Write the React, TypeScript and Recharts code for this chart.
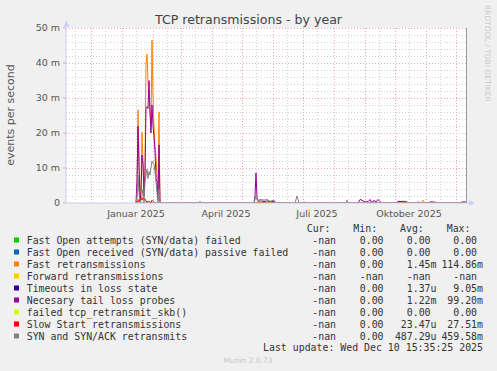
import React from 'react';
import { LineChart, Line, XAxis, YAxis, CartesianGrid, ReferenceLine } from 'recharts';

// x = days since 6 Nov 2024 (400-day window ending 10 Dec 2025), y = milli-events per second
const MONTH_STARTS = [25, 56, 87, 115, 146, 176, 207, 237, 268, 299, 329, 360, 390];
const MID_MONTHS = [9, 39, 70, 101, 129, 160, 190, 221, 251, 282, 313, 343, 374];
const X_LABEL_DAYS = [70, 160, 251, 343];
const X_LABELS = ['Januar 2025', 'April 2025', 'Juli 2025', 'Oktober 2025'];
const Y_MAJOR = [0, 10, 20, 30, 40, 50];
const Y_MINOR = [2, 4, 6, 8, 12, 14, 16, 18, 22, 24, 26, 28, 32, 34, 36, 38, 42, 44, 46, 48];

const zeroDays = [70, 400];
const zeroVals = [0, 0];

const fastDays = [70, 71, 72, 73, 74, 75, 76, 77, 78, 79, 80, 81, 82, 83, 84, 85, 86, 87, 88, 89, 90, 91, 92, 93, 94, 273, 274, 275, 355, 357, 359, 400];
const fastVals = [0, 0, 26.6, 14, 0.5, 5, 20.2, 12, 3, 10, 40, 42.5, 35, 30, 26, 22, 46.5, 30, 22, 16, 13, 8, 2, 26, 0, 0, 0.3, 0, 0, 0.8, 0, 0];

const tailDays = [70, 71, 72, 73, 74, 75, 76, 77, 78, 79, 80, 81, 82, 83, 84, 85, 86, 87, 88, 89, 90, 91, 92, 93, 94,
  110, 111, 112, 188, 189, 190, 191, 192, 195, 198, 201, 204, 208, 210, 236, 238, 240, 263, 264, 265,
  292, 294, 296, 298, 300, 302, 304, 305, 307, 308, 310, 312, 314, 316, 330, 332, 335, 338, 340, 343,
  362, 364, 368, 372, 394, 396, 399, 400];
const tailVals = [0, 6.6, 22, 10, 0.5, 3, 13.7, 11, 2, 8, 27, 27.5, 27, 35, 26, 20, 28, 22, 19, 15, 7, 6, 1, 16.6, 0,
  0, 0.3, 0, 0, 2, 8.6, 1.5, 0.5, 0.6, 0.4, 0.6, 0.3, 0.5, 0, 0, 0.3, 0, 0, 0.3, 0,
  0, 1, 0.8, 0.4, 0.3, 0.4, 1, 0.3, 0.3, 0.8, 0.3, 1, 0.4, 0, 0, 0.5, 0.4, 0.5, 0.4, 0,
  0, 0.3, 0.3, 0, 0, 0.3, 0.3, 0.3];

const slowDays = [70, 71, 72, 73, 74, 75, 76, 77, 78, 79, 80, 81, 82, 83, 84, 85, 86, 87, 88, 89, 94, 400];
const slowVals = [0, 0.5, 0.3, 1, 0.2, 1.2, 0.8, 1.5, 1, 1.2, 0.5, 0.3, 0.5, 0.2, 0.4, 0, 0.8, 0.5, 0.3, 0, 0, 0];

const synDays = [70, 71, 72, 73, 74, 75, 76, 77, 78, 79, 80, 81, 82, 83, 84, 85, 86, 87, 88, 89, 90, 91, 92, 93, 94,
  133, 134, 135, 188, 189, 190, 191, 192, 195, 198, 201, 204, 208, 210, 229, 231, 233, 280, 281, 282, 350, 352, 354, 400];
const synVals = [0, 2, 8, 3, 0, 1, 2, 4, 0, 6, 8, 9.7, 7, 9, 8, 10, 12, 11.4, 11, 9, 6, 3, 0, 4, 0,
  0, 0.5, 0, 0, 1, 2, 1, 0.8, 1, 0.8, 1, 0.5, 0.8, 0, 0, 2, 0, 0, 0.8, 0, 0, 0.4, 0, 0];

const legendNames = [
  'Fast Open attempts (SYN/data) failed',
  'Fast Open received (SYN/data) passive failed',
  'Fast retransmissions',
  'Forward retransmissions',
  'Timeouts in loss state',
  'Necesary tail loss probes',
  'failed tcp_retransmit_skb()',
  'Slow Start retransmissions',
  'SYN and SYN/ACK retransmits',
];
const legendColors = ['#00CC00', '#0066B3', '#FF8000', '#FFCC00', '#330099', '#990099', '#CCFF00', '#FF0000', '#808080'];
const curVals = ['-nan ', '-nan ', '-nan ', '-nan ', '-nan ', '-nan ', '-nan ', '-nan ', '-nan '];
const minVals = ['0.00 ', '0.00 ', '0.00 ', '-nan ', '0.00 ', '0.00 ', '0.00 ', '0.00 ', '0.00 '];
const avgVals = ['0.00 ', '0.00 ', '1.45m', '-nan ', '1.37u', '1.22m', '0.00 ', '23.47u', '487.29u'];
const maxVals = ['0.00 ', '0.00 ', '114.86m', '-nan ', '9.05m', '99.20m', '0.00 ', '27.51m', '459.58m'];

const toPoints = (days: number[], vals: number[]) => days.map((d, i) => ({ d, v: vals[i] }));

const SANS = 'DejaVu Sans, sans-serif';
const MONO = 'DejaVu Sans Mono, monospace';

export default function App() {
  const series = [
    { name: legendNames[0], color: legendColors[0], data: toPoints(zeroDays, zeroVals) },
    { name: legendNames[1], color: legendColors[1], data: toPoints(zeroDays, zeroVals) },
    { name: legendNames[2], color: legendColors[2], data: toPoints(fastDays, fastVals) },
    { name: legendNames[4], color: legendColors[4], data: toPoints(zeroDays, zeroVals) },
    { name: legendNames[5], color: legendColors[5], data: toPoints(tailDays, tailVals) },
    { name: legendNames[6], color: legendColors[6], data: toPoints(zeroDays, zeroVals) },
    { name: legendNames[7], color: legendColors[7], data: toPoints(slowDays, slowVals) },
    { name: legendNames[8], color: legendColors[8], data: toPoints(synDays, synVals) },
  ];
  const colRight = [342, 389.5, 436.5, 483];
  const cols = [curVals, minVals, avgVals, maxVals];
  const headers = ['Cur:', 'Min:', 'Avg:', 'Max:'];
  const headerLeft = [306.7, 353.3, 400, 446.7];
  const txt = '#333333';
  const minorGrid = '#D2D2D2';
  const majorGrid = '#EBA8A8';
  return (
    <div style={{ position: 'absolute', left: 0, top: 0, width: 497, height: 371, background: '#F0F0F0', overflow: 'hidden' }}>
      <LineChart width={497} height={371} margin={{ top: 28, right: 31, bottom: 0, left: 0 }}>
        <CartesianGrid horizontal={false} vertical={false} fill="#FFFFFF" stroke="none" />
        {Y_MINOR.map((y) => (
          <ReferenceLine key={'ym' + y} y={y} stroke={minorGrid} strokeDasharray="1 2" shapeRendering="crispEdges" />
        ))}
        {MID_MONTHS.map((x) => (
          <ReferenceLine key={'xm' + x} x={x} stroke={minorGrid} strokeDasharray="1 2" shapeRendering="crispEdges" />
        ))}
        {Y_MAJOR.filter((y) => y > 0).map((y) => (
          <ReferenceLine key={'yM' + y} y={y} stroke={majorGrid} strokeDasharray="1 2" shapeRendering="crispEdges" />
        ))}
        {MONTH_STARTS.map((x) => (
          <ReferenceLine key={'xM' + x} x={x} stroke={majorGrid} strokeDasharray="1 2" shapeRendering="crispEdges" />
        ))}
        <ReferenceLine x={400} stroke="#999999" shapeRendering="crispEdges" />
        <XAxis
          type="number"
          dataKey="d"
          domain={[0, 400]}
          ticks={X_LABEL_DAYS}
          tickFormatter={(v: number) => X_LABELS[X_LABEL_DAYS.indexOf(v)] ?? ''}
          height={168}
          tickLine={false}
          tickSize={5}
          tickMargin={2}
          axisLine={{ stroke: '#C8CCF4' }}
          tick={{ fontSize: 9.5, fill: '#555555', fontFamily: SANS }}
          allowDataOverflow
        />
        <YAxis
          type="number"
          domain={[0, 50]}
          ticks={Y_MAJOR}
          tickFormatter={(v: number) => (v === 0 ? '0' : v + ' m')}
          width={66}
          tickSize={3}
          tickMargin={3}
          tickLine={{ stroke: majorGrid }}
          axisLine={{ stroke: '#C8CCF4' }}
          tick={{ fontSize: 9.5, fill: '#555555', fontFamily: SANS }}
          allowDataOverflow
        />
        {series.map((s) => (
          <Line
            key={s.name}
            data={s.data}
            dataKey="v"
            type="linear"
            stroke={s.color}
            strokeWidth={1}
            dot={false}
            activeDot={false}
            isAnimationActive={false}
          />
        ))}
      </LineChart>
      <svg width={497} height={371} style={{ position: 'absolute', left: 0, top: 0, pointerEvents: 'none' }}>
        <polygon points="66.5,20.5 63.5,27 69.5,27" fill="#C8D0FF" />
        <polygon points="475,203 469,200 469,206" fill="#C8D0FF" />
        <line x1={466} y1={203} x2={469} y2={203} stroke="#C8CCF4" />
        <text x={248.5} y={24} textAnchor="middle" fontFamily={SANS} fontSize={12.6} fill="#444444">
          TCP retransmissions - by year
        </text>
        <text transform="translate(14,115) rotate(-90)" textAnchor="middle" fontFamily={SANS} fontSize={11} fill="#555555">
          events per second
        </text>
        <text transform="translate(485,5) rotate(90)" textAnchor="start" fontFamily={SANS} fontSize={7.5} fill="#CCCCCC">
          RRDTOOL / TOBI OETIKER
        </text>
        {headers.map((h, i) => (
          <text key={h} x={headerLeft[i]} y={231.7} fontFamily={MONO} fontSize={9.9} fill={txt} xmlSpace="preserve">
            {h}
          </text>
        ))}
        {legendNames.map((n, i) => {
          const by = 243.5 + 12 * i;
          return (
            <g key={n}>
              <rect x={14} y={by - 6} width={5} height={5} fill={legendColors[i]} />
              <text x={26.7} y={by} fontFamily={MONO} fontSize={9.9} fill={txt} xmlSpace="preserve">
                {n}
              </text>
              {cols.map((c, j) => (
                <text key={j} x={colRight[j]} y={by} textAnchor="end" fontFamily={MONO} fontSize={9.9} fill={txt} xmlSpace="preserve" style={{ whiteSpace: 'pre' }}>
                  {c[i]}
                </text>
              ))}
            </g>
          );
        })}
        <text x={483} y={351} textAnchor="end" fontFamily={MONO} fontSize={9.9} fill={txt}>
          Last update: Wed Dec 10 15:35:25 2025
        </text>
        <text x={248} y={363} textAnchor="middle" fontFamily={SANS} fontSize={7.5} fill="#C8C8C8">
          Munin 2.0.73
        </text>
      </svg>
    </div>
  );
}
